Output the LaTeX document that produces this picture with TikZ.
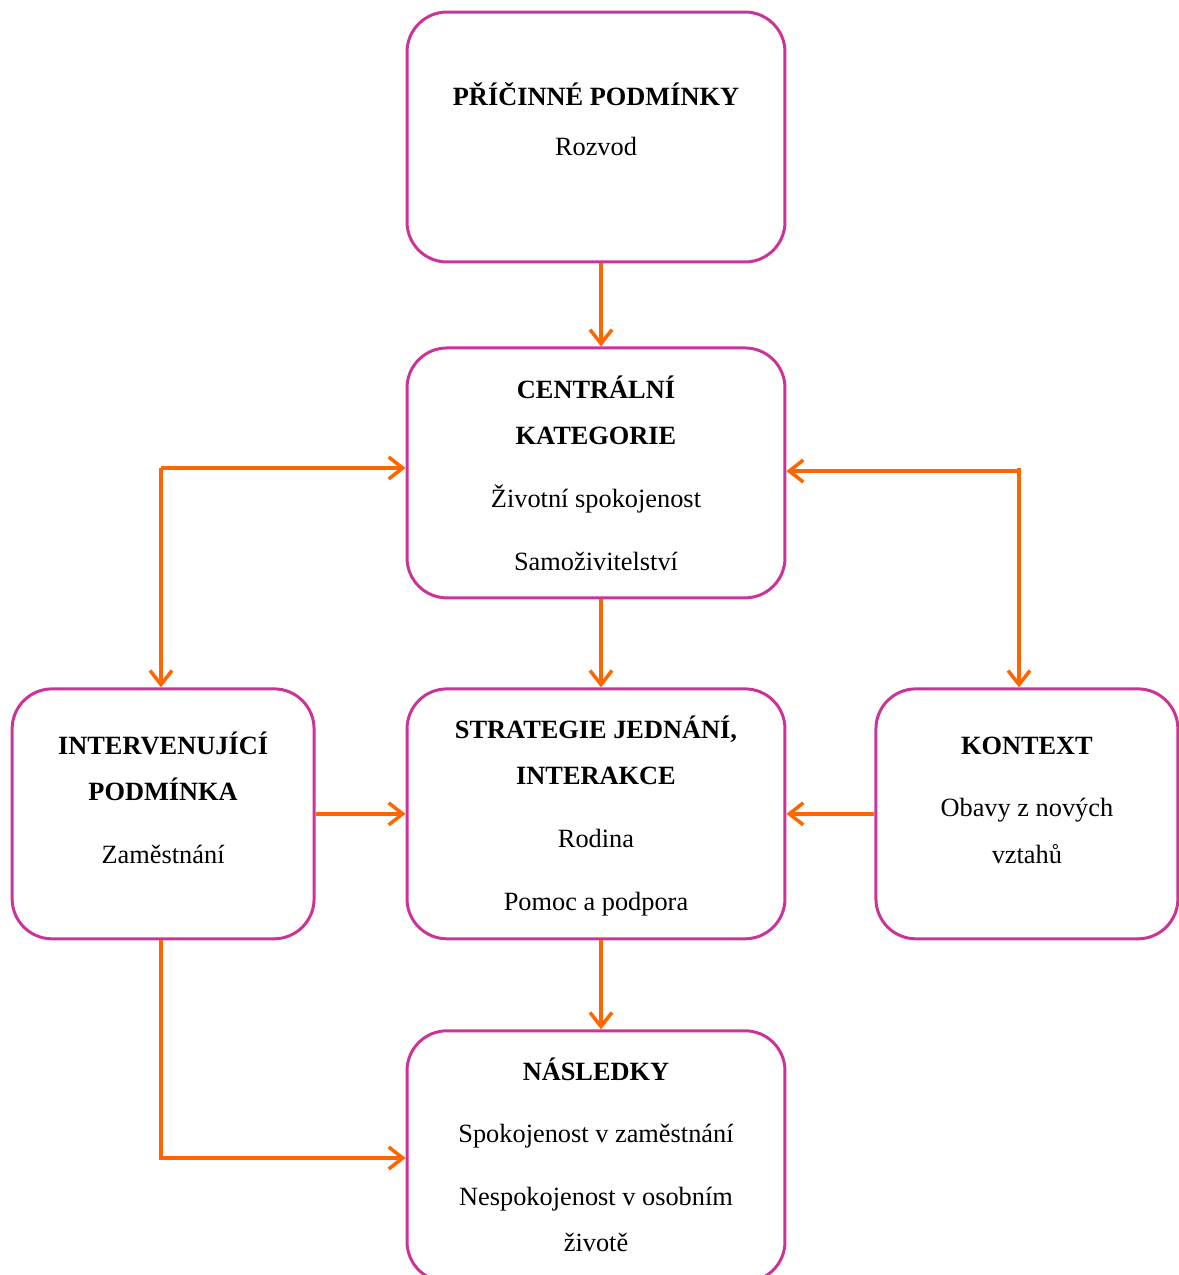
\documentclass[tikz,border=0pt]{standalone}
\usepackage{fontspec}
\setmainfont{Liberation Serif}
\usetikzlibrary{arrows.meta, positioning}
\definecolor{ruzova}{RGB}{204, 51, 153}
\definecolor{oranzova}{RGB}{255, 102, 0}
\tikzstyle{kategorie} = [rectangle, rounded corners=0.8cm, minimum width=7.56cm,
                         minimum height=5cm, draw=ruzova, line width=1.7pt]
\tikzstyle{bocni}     = [kategorie, minimum width=6.04cm]
\tikzstyle{popis}     = [align=center, inner sep=0pt,
                         font=\fontsize{15}{26.4}\selectfont]
\tikzstyle{sipka}     = [-{Straight Barb[length=2.8mm, width=4.4mm]},
                         draw=oranzova, line width=2pt]

\begin{document}
\begin{tikzpicture}[x=0.02cm, y=-0.02cm]
  \useasboundingbox (0,0) rectangle (1179,1275);
  \begin{scope}
  \clip (0,0) rectangle (1179,1275);

  \node (pricinne) [kategorie] at (596,137) {};
  \node (centralni) [kategorie, below=1.66cm of pricinne] {};
  \node (strategie) [kategorie, below=1.76cm of centralni] {};
  \node (nasledky) [kategorie, below=1.78cm of strategie, minimum height=5.02cm] {};
  \node (interv) [bocni, left=1.8cm of strategie] {};
  \node (kontext) [bocni, right=1.76cm of strategie] {};

  % Texty
  \node (pricinne-t) [popis, below=1.25cm of pricinne.north]
    {\strut\textbf{PŘÍČINNÉ PODMÍNKY}\\[2pt]Rozvod};
  \node (centralni-t) [popis, below=0.38cm of centralni.north]
    {\strut\textbf{CENTRÁLNÍ}\\\textbf{KATEGORIE}\\[9.3pt]Životní spokojenost\\[9.3pt]Samoživitelství};
  \node (strategie-t) [popis, below=0.36cm of strategie.north]
    {\strut\textbf{STRATEGIE JEDNÁNÍ,}\\\textbf{INTERAKCE}\\[9.3pt]Rodina\\[9.3pt]Pomoc a podpora};
  \node (nasledky-t) [popis, below=0.36cm of nasledky.north]
    {\strut\textbf{NÁSLEDKY}\\[9.3pt]Spokojenost v zaměstnání\\[9.3pt]Nespokojenost v osobním\\životě};
  \node (interv-t) [popis, below=0.68cm of interv.north]
    {\strut\textbf{INTERVENUJÍCÍ}\\\textbf{PODMÍNKA}\\[9.3pt]Zaměstnání};
  \node (kontext-t) [popis, below=0.68cm of kontext.north]
    {\strut\textbf{KONTEXT}\\[9.3pt]Obavy z nových\\vztahů};

  % Sipky
  \coordinate (rohL) at (161,468);
  \coordinate (rohP) at (1019,471);
  \coordinate (rohD) at (161,1158);

  \draw [sipka] ([xshift=0.1cm]pricinne.south) -- ([xshift=0.1cm]centralni.north);
  \draw [sipka] ([xshift=0.1cm]centralni.south) -- ([xshift=0.1cm]strategie.north);
  \draw [sipka] ([xshift=0.1cm]strategie.south) -- ([xshift=0.1cm]nasledky.north);
  \draw [sipka] (rohL) -- (rohL -| centralni.west);
  \draw [sipka] (rohL) -- (rohL |- interv.north);
  \draw [sipka] ([yshift=0.06cm]rohP) -- (rohP |- kontext.north);
  \draw [sipka] (rohP) -- (rohP -| centralni.east);
  \draw [sipka] (interv.east) -- (strategie.west);
  \draw [sipka] (kontext.west) -- (strategie.east);
  \draw [sipka] (interv.south -| rohD) -- (rohD) -- (rohD -| nasledky.west);
  \end{scope}
\end{tikzpicture}
\end{document}
